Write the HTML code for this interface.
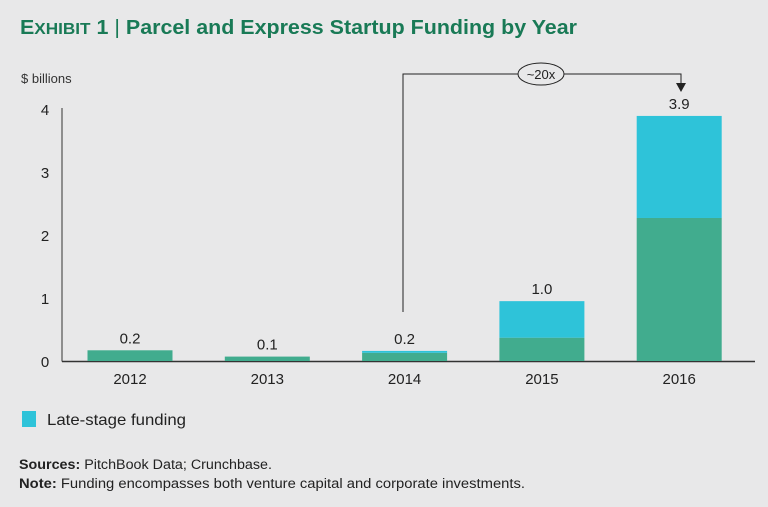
<!DOCTYPE html>
<html><head><meta charset="utf-8"><style>
body{margin:0;width:768px;height:507px;background:#e8e8e9;font-family:"Liberation Sans",sans-serif;overflow:hidden}
svg{position:absolute;left:0;top:0}
</style></head><body>
<svg width="768" height="507">
<text x="20" y="34" fill="#197a56" font-size="20" font-weight="bold" textLength="557" lengthAdjust="spacingAndGlyphs"><tspan font-size="20">E</tspan><tspan font-size="16">XHIBIT</tspan> 1 <tspan font-weight="normal">|</tspan> Parcel and Express Startup Funding by Year</text>
<text x="21" y="83" font-size="13" fill="#333">$ billions</text>
<g id="axes"></g><g id="bars"></g>
<g>
<polyline points="403,312 403,74 681,74 681,86" fill="none" stroke="#222" stroke-width="1"/>
<polygon points="676,83 686,83 681,92" fill="#222"/>
<ellipse cx="541" cy="74" rx="23" ry="11" fill="#e8e8e9" stroke="#222"/>
<text x="541" y="79" font-size="13" text-anchor="middle" fill="#222">~20x</text>
</g>
<rect x="22" y="411" width="14" height="16" fill="#2ec3d9"/>
<text x="47" y="425" font-size="16" fill="#222" textLength="139" lengthAdjust="spacingAndGlyphs">Late-stage funding</text>
<text x="19" y="469" font-size="13.5" fill="#222" textLength="253" lengthAdjust="spacingAndGlyphs"><tspan font-weight="bold">Sources:</tspan> PitchBook Data; Crunchbase.</text>
<text x="19" y="488" font-size="13.5" fill="#222" textLength="506" lengthAdjust="spacingAndGlyphs"><tspan font-weight="bold">Note:</tspan> Funding encompasses both venture capital and corporate investments.</text>
</svg>
<script>
const categories=["2012","2013","2014","2015","2016"];
const earlyValues=[0.17,0.07,0.13,0.37,2.27];
const lateValues=[0,0,0.03,0.58,1.62];
const totalLabels=["0.2","0.1","0.2","1.0","3.9"];
const yTicks=[0,1,2,3,4];
const NS="http://www.w3.org/2000/svg";
const y=v=>361-v*63;
const x=i=>130+i*137.3;
const bw=85;
function mk(tag,attrs,parent){const e=document.createElementNS(NS,tag);for(const k in attrs)e.setAttribute(k,attrs[k]);parent.appendChild(e);return e;}
const ax=document.getElementById('axes'),bars=document.getElementById('bars');
yTicks.forEach(t=>{const e=mk('text',{x:45,y:y(t)+6,'font-size':15,'text-anchor':'middle',fill:'#222'},ax);e.textContent=t;

});
categories.forEach((c,i)=>{
const g=mk('rect',{x:x(i)-bw/2,y:y(earlyValues[i]),width:bw,height:earlyValues[i]*63,fill:'#41ac8e'},bars);


const l=mk('rect',{x:x(i)-bw/2,y:y(earlyValues[i]+lateValues[i]),width:bw,height:lateValues[i]*63,fill:'#2ec3d9'},bars);


const t=mk('text',{x:x(i),y:y(earlyValues[i]+lateValues[i])-7,'font-size':15,'text-anchor':'middle',fill:'#222'},bars);t.textContent=totalLabels[i];


const xl=mk('text',{x:x(i),y:384,'font-size':15,'text-anchor':'middle',fill:'#222'},ax);xl.textContent=c;


});
const yl=mk('line',{x1:62,y1:108,x2:62,y2:361.5,stroke:'#333','stroke-width':1},ax);


const xa=mk('line',{x1:62,y1:361.5,x2:755,y2:361.5,stroke:'#333','stroke-width':1.5},ax);


</script>
</body></html>
